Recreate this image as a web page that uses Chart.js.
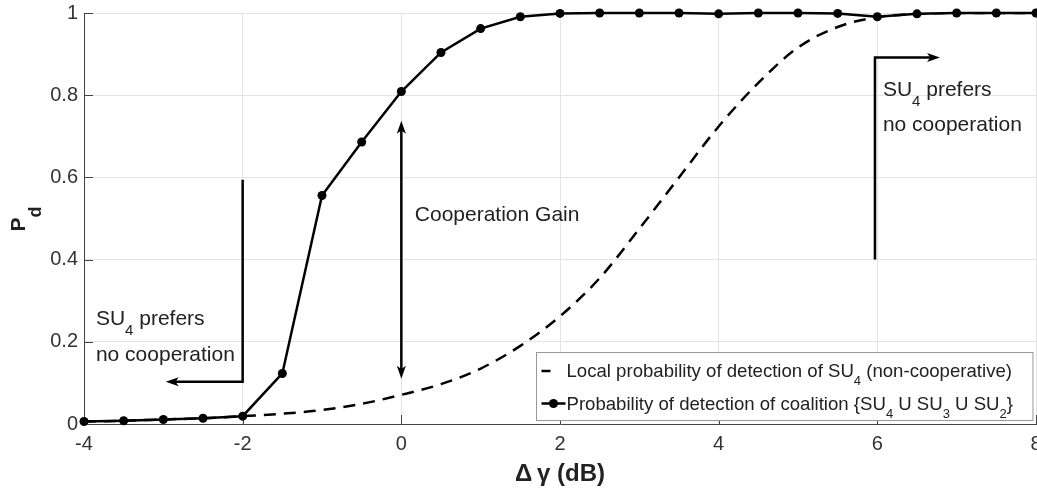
<!DOCTYPE html>
<html>
<head>
<meta charset="utf-8">
<script src="https://cdn.jsdelivr.net/npm/chart.js@4.4.0/dist/chart.umd.min.js"></script>
<style>
    html, body { margin: 0; padding: 0; background: #fff; overflow: hidden; }
    #wrap { width: 1037px; height: 493px; }
</style>
</head>
<body>
<div id="wrap"><canvas id="pdChart"></canvas></div>
<script>
// values (SNR offset in dB vs probability of detection)
const deltaGamma = [-4, -3.5, -3, -2.5, -2, -1.5, -1, -0.5, 0, 0.5, 1, 1.5, 2, 2.5, 3, 3.5, 4, 4.5, 5, 5.5, 6, 6.5, 7, 7.5, 8];
const pdLocal = [0.006, 0.008, 0.011, 0.014, 0.019, 0.025, 0.034, 0.049, 0.071, 0.097, 0.135, 0.19, 0.262, 0.355, 0.475, 0.60, 0.724, 0.83, 0.916, 0.966, 0.99, 0.998, 1.0, 1.0, 1.0];
const pdCoalition = [0.006, 0.008, 0.011, 0.014, 0.019, 0.123, 0.556, 0.686, 0.809, 0.904, 0.962, 0.991, 0.999, 1.0, 1.0, 1.0, 0.998, 1.0, 1.0, 0.999, 0.991, 0.998, 1.0, 1.0, 1.0];

const xTicks = [-4, -2, 0, 2, 4, 6, 8];
const yTicks = [0, 0.2, 0.4, 0.6, 0.8, 1];
const yTickLabels = ["0", "0.2", "0.4", "0.6", "0.8", "1"];

const seriesNames = [
    "Local probability of detection of SU_{4} (non-cooperative)",
    "Probability of detection of coalition {SU_{4} U SU_{3} U SU_{2}}"
];
const xTitle = "\u0394\u2009\u03b3 (dB)";
const yTitle = "P_{d}";

// text annotations: [text, x, y] in data units (y = baseline)
const notes = [
    ["SU_{4} prefers", -3.85, 0.240],
    ["no cooperation", -3.85, 0.153],
    ["Cooperation Gain", 0.17, 0.495],
    ["SU_{4} prefers", 6.07, 0.797],
    ["no cooperation", 6.07, 0.714]
];

const FONT = "'Liberation Sans', Arial, sans-serif";
const INK = "#222";

// draw text with MATLAB-like _{sub} subscripts
function richParts(str) {
    const parts = [];
    const re = /_\{([^}]*)\}/g;
    let last = 0, m;
    while ((m = re.exec(str)) !== null) {
        if (m.index > last) parts.push({ t: str.slice(last, m.index), sub: false });
        parts.push({ t: m[1], sub: true });
        last = re.lastIndex;
    }
    if (last < str.length) parts.push({ t: str.slice(last), sub: false });
    return parts;
}

function drawRich(ctx, str, x, y, size, weight) {
    weight = weight || "normal";
    let cx = x;
    ctx.textBaseline = "alphabetic";
    ctx.textAlign = "left";
    richParts(str).forEach(p => {
        const s = p.sub ? Math.round(size * 0.7) : size;
        ctx.font = `${weight} ${s}px ${FONT}`;
        ctx.fillText(p.t, cx, p.sub ? y + size * 0.45 : y);
        cx += ctx.measureText(p.t).width;
    });
    return cx - x;
}

function richWidth(ctx, str, size) {
    let w = 0;
    richParts(str).forEach(p => {
        const s = p.sub ? Math.round(size * 0.7) : size;
        ctx.font = `normal ${s}px ${FONT}`;
        w += ctx.measureText(p.t).width;
    });
    return w;
}

function arrowHead(ctx, x1, y1, x2, y2) {
    const ang = Math.atan2(y2 - y1, x2 - x1);
    const len = 13, half = 4.5;
    ctx.beginPath();
    ctx.moveTo(x2, y2);
    ctx.lineTo(x2 - len * Math.cos(ang) + half * Math.sin(ang), y2 - len * Math.sin(ang) - half * Math.cos(ang));
    ctx.lineTo(x2 - len * 0.75 * Math.cos(ang), y2 - len * 0.75 * Math.sin(ang));
    ctx.lineTo(x2 - len * Math.cos(ang) - half * Math.sin(ang), y2 - len * Math.sin(ang) + half * Math.cos(ang));
    ctx.closePath();
    ctx.fill();
}

const figurePlugin = {
    id: "figureExtras",
    beforeDatasetsDraw(chart) {
        // MATLAB style inward ticks
        const { ctx, chartArea: a, scales: { x, y } } = chart;
        ctx.save();
        ctx.strokeStyle = "#444";
        ctx.lineWidth = 1;
        ctx.beginPath();
        yTicks.forEach(v => {
            const py = Math.round(y.getPixelForValue(v)) + 0.5;
            ctx.moveTo(a.left, py);
            ctx.lineTo(a.left + 9, py);
        });
        xTicks.forEach(v => {
            const px = Math.round(x.getPixelForValue(v)) + 0.5;
            ctx.moveTo(px, a.bottom);
            ctx.lineTo(px, a.bottom - 9);
        });
        ctx.stroke();
        ctx.restore();
    },
    afterDatasetsDraw(chart) {
        const { ctx, chartArea: a, scales: { x, y } } = chart;
        ctx.save();
        ctx.strokeStyle = "#000";
        ctx.fillStyle = "#000";
        ctx.lineWidth = 2.5;

        // left: SU4 prefers no cooperation
        let px = x.getPixelForValue(-2);
        let top = y.getPixelForValue(0.594), bot = y.getPixelForValue(0.103);
        let end = x.getPixelForValue(-2.97);
        ctx.beginPath();
        ctx.moveTo(px, top); ctx.lineTo(px, bot); ctx.lineTo(end + 8, bot);
        ctx.stroke();
        arrowHead(ctx, px, bot, end, bot);

        // cooperation gain, double headed
        px = x.getPixelForValue(0);
        top = y.getPixelForValue(0.738); bot = y.getPixelForValue(0.11);
        ctx.beginPath();
        ctx.moveTo(px, top + 8); ctx.lineTo(px, bot - 8);
        ctx.stroke();
        arrowHead(ctx, px, bot, px, top);
        arrowHead(ctx, px, top, px, bot);

        // right: SU4 prefers no cooperation
        px = x.getPixelForValue(5.97);
        top = y.getPixelForValue(0.892); bot = y.getPixelForValue(0.4);
        end = x.getPixelForValue(6.79);
        ctx.beginPath();
        ctx.moveTo(px, bot); ctx.lineTo(px, top); ctx.lineTo(end - 8, top);
        ctx.stroke();
        arrowHead(ctx, px, top, end, top);

        ctx.fillStyle = INK;
        notes.forEach(n => drawRich(ctx, n[0], x.getPixelForValue(n[1]), y.getPixelForValue(n[2]), 21));

        // y axis title, rotated
        ctx.save();
        ctx.translate(25, (a.top + a.bottom) / 2 + 13);
        ctx.rotate(-Math.PI / 2);
        ctx.font = `bold 21px ${FONT}`;
        ctx.fillText("P", 0, 0);
        const pw = ctx.measureText("P").width;
        ctx.font = `bold 18px ${FONT}`;
        ctx.fillText(richParts(yTitle)[1].t, pw, 16);
        ctx.restore();

        // legend
        const size = 18.6;
        const textW = Math.max(...seriesNames.map(s => richWidth(ctx, s, size)));
        const boxW = textW + 50, boxH = 68;
        const bx = Math.round(a.right - 4 - boxW) + 0.5, by = Math.round(a.bottom - 4 - boxH) + 0.5;
        ctx.fillStyle = "#fff";
        ctx.fillRect(bx, by, boxW, boxH);
        ctx.strokeStyle = "#999";
        ctx.lineWidth = 1;
        ctx.strokeRect(bx, by, boxW, boxH);

        chart.data.datasets.forEach((ds, i) => {
            const cy = by + 18.5 + i * 32.5;
            ctx.strokeStyle = ds.borderColor;
            ctx.fillStyle = ds.borderColor;
            ctx.lineWidth = ds.borderWidth;
            ctx.beginPath();
            if (ds.borderDash && ds.borderDash.length) {
                ctx.moveTo(bx + 5, cy); ctx.lineTo(bx + 14, cy);
            } else {
                ctx.moveTo(bx + 5, cy); ctx.lineTo(bx + 29, cy);
            }
            ctx.stroke();
            if (ds.pointRadius > 0) {
                ctx.beginPath();
                ctx.arc(bx + 17, cy, ds.pointRadius, 0, Math.PI * 2);
                ctx.fill();
            }
            ctx.fillStyle = INK;
            drawRich(ctx, seriesNames[i], bx + 30, cy + 6, size);
        });
        ctx.restore();
    }
};

new Chart(document.getElementById("pdChart"), {
    type: "line",
    data: {
        labels: deltaGamma,
        datasets: [
            {
                label: seriesNames[0],
                data: deltaGamma.map((v, i) => ({ x: v, y: pdLocal[i] })),
                borderColor: "#000",
                borderWidth: 2.5,
                borderDash: [12, 8],
                pointRadius: 0,
                cubicInterpolationMode: "monotone",
                order: 1
            },
            {
                label: seriesNames[1],
                data: deltaGamma.map((v, i) => ({ x: v, y: pdCoalition[i] })),
                borderColor: "#000",
                backgroundColor: "#000",
                borderWidth: 2.5,
                pointRadius: 4.5,
                pointBackgroundColor: "#000",
                pointBorderWidth: 0,
                tension: 0,
                clip: false,
                order: 0
            }
        ]
    },
    options: {
        responsive: true,
        maintainAspectRatio: false,
        animation: false,
        layout: { autoPadding: false, padding: { top: 13, right: 1, left: 0, bottom: 0 } },
        plugins: {
            legend: { display: false },
            tooltip: { enabled: false }
        },
        scales: {
            x: {
                type: "linear",
                min: -4,
                max: 8,
                afterBuildTicks: scale => { scale.ticks = xTicks.map(v => ({ value: v })); },
                afterFit: scale => {
                    scale.height = 69;
                    scale.paddingLeft = 0;
                    scale.paddingRight = 0;
                },
                grid: { color: "#e4e4e4", drawTicks: false },
                border: { color: "#444", width: 1 },
                ticks: {
                    color: "#333",
                    padding: 8,
                    maxRotation: 0,
                    font: { family: FONT, size: 20 }
                },
                title: {
                    display: true,
                    text: xTitle,
                    color: "#222",
                    padding: { top: 0, bottom: 4 },
                    font: { family: FONT, size: 24, weight: "bold" }
                }
            },
            y: {
                min: 0,
                max: 1,
                afterBuildTicks: scale => { scale.ticks = yTicks.map(v => ({ value: v })); },
                afterFit: scale => {
                    scale.width = 84;
                    scale.paddingTop = 0;
                    scale.paddingBottom = 0;
                },
                grid: { color: "#e4e4e4", drawTicks: false },
                border: { color: "#444", width: 1 },
                ticks: {
                    color: "#333",
                    padding: 6,
                    font: { family: FONT, size: 20 },
                    callback: (v, i) => yTickLabels[i]
                }
            }
        }
    },
    plugins: [figurePlugin]
});
</script>
</body>
</html>
